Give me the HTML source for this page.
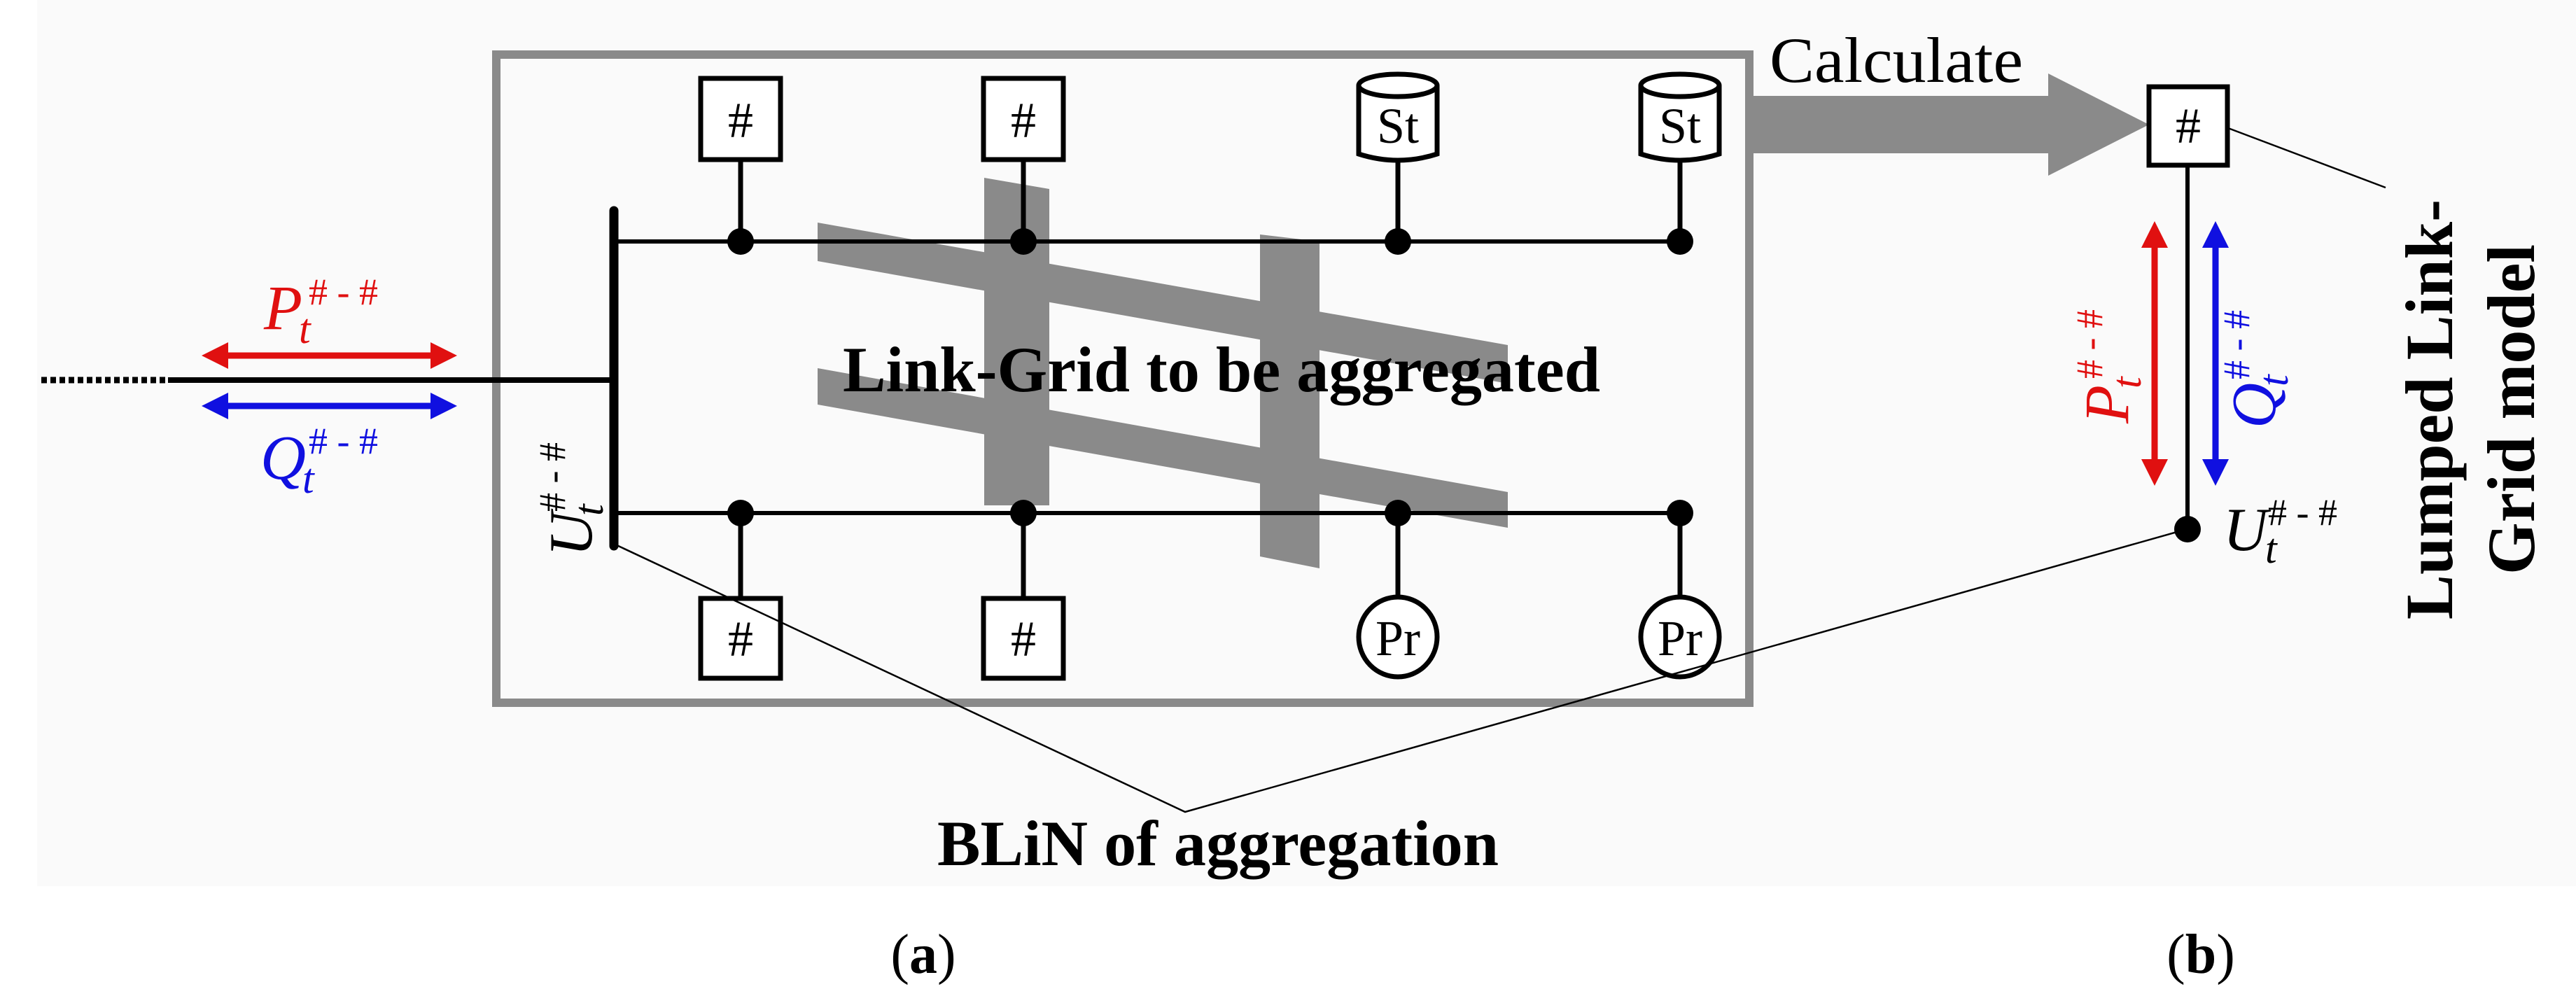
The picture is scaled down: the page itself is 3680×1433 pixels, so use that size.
<!DOCTYPE html>
<html><head><meta charset="utf-8"><style>
html,body{margin:0;padding:0;background:#fff}
svg{display:block}
text{font-family:"Liberation Serif",serif}
</style></head><body>
<svg width="3680" height="1433" viewBox="0 0 3680 1433" xmlns="http://www.w3.org/2000/svg">
<rect x="0" y="0" width="3680" height="1433" fill="#fff"/>
<rect x="53" y="0" width="3627" height="1266" fill="#fafafa"/>

<!-- gray hash bands -->
<g fill="#8a8a8a">
<polygon points="1168,318 2154,493 2154,548 1168,373"/>
<polygon points="1168,526 2154,703 2154,754 1168,578"/>
<polygon points="1406,254 1499,270 1499,722 1406,722"/>
<polygon points="1800,335 1885,345 1885,812 1800,795"/>
</g>

<!-- outer box -->
<rect x="709" y="78" width="1790" height="926" fill="none" stroke="#8a8a8a" stroke-width="12"/>

<!-- Calculate arrow -->
<polygon points="2505,137 2926,137 2926,105 3070,178 2926,251 2926,219 2505,219" fill="#8a8a8a"/>
<text x="2528" y="117" font-size="92" textLength="362" lengthAdjust="spacingAndGlyphs">Calculate</text>

<!-- left line -->
<line x1="59" y1="543" x2="240" y2="543" stroke="#000" stroke-width="9" stroke-dasharray="8,5"/>
<line x1="240" y1="543" x2="876" y2="543" stroke="#000" stroke-width="8"/>
<g>
<line x1="320" y1="508" x2="622" y2="508" stroke="#e01010" stroke-width="9"/>
<polygon points="288,508 326,489 326,527" fill="#e01010"/>
<polygon points="653,508 615,489 615,527" fill="#e01010"/>
<line x1="320" y1="580" x2="622" y2="580" stroke="#1010e0" stroke-width="9"/>
<polygon points="288,580 326,561 326,599" fill="#1010e0"/>
<polygon points="653,580 615,561 615,599" fill="#1010e0"/>
</g>
<text x="377" y="470" font-size="90" font-style="italic" fill="#e01010">P</text>
<text x="427" y="490" font-size="60" font-style="italic" fill="#e01010">t</text>
<text x="441" y="435" font-size="54" fill="#e01010"># - #</text>
<text x="372" y="684" font-size="90" font-style="italic" fill="#1010e0">Q</text>
<text x="432" y="704" font-size="60" font-style="italic" fill="#1010e0">t</text>
<text x="441" y="648" font-size="54" fill="#1010e0"># - #</text>

<!-- U label rotated -->
<g transform="translate(845,795) rotate(-90)">
<text x="0" y="0" font-size="88" font-style="italic">U</text>
<text x="58" y="16" font-size="60" font-style="italic">t</text>
<text x="64" y="-38" font-size="54"># - #</text>
</g>

<!-- bus -->
<line x1="877" y1="301" x2="877" y2="780" stroke="#000" stroke-width="13" stroke-linecap="round"/>
<line x1="877" y1="345" x2="2400" y2="345" stroke="#000" stroke-width="6"/>
<line x1="877" y1="733" x2="2400" y2="733" stroke="#000" stroke-width="6"/>

<g stroke="#000" stroke-width="7" fill="#fff">
<line x1="1058" y1="230" x2="1058" y2="345"/>
<line x1="1462" y1="230" x2="1462" y2="345"/>
<line x1="1997" y1="230" x2="1997" y2="345"/>
<line x1="2400" y1="230" x2="2400" y2="345"/>
<line x1="1058" y1="733" x2="1058" y2="855"/>
<line x1="1462" y1="733" x2="1462" y2="855"/>
<line x1="1997" y1="733" x2="1997" y2="855"/>
<line x1="2400" y1="733" x2="2400" y2="855"/>
<rect x="1001" y="112" width="114" height="116"/>
<rect x="1405" y="112" width="114" height="116"/>
<rect x="1001" y="855" width="114" height="114"/>
<rect x="1405" y="855" width="114" height="114"/>
<path d="M1941,122 L1941,220 Q1997,238 2053,220 L2053,122"/>
<ellipse cx="1997" cy="122" rx="56" ry="16"/>
<path d="M2344,122 L2344,220 Q2400,238 2456,220 L2456,122"/>
<ellipse cx="2400" cy="122" rx="56" ry="16"/>
<ellipse cx="1997" cy="910" rx="56" ry="57"/>
<ellipse cx="2400" cy="910" rx="56" ry="57"/>
<rect x="3070" y="124" width="112" height="112"/>
</g>
<g fill="#000">
<circle cx="1058" cy="345" r="19"/><circle cx="1462" cy="345" r="19"/>
<circle cx="1997" cy="345" r="19"/><circle cx="2400" cy="345" r="19"/>
<circle cx="1058" cy="733" r="19"/><circle cx="1462" cy="733" r="19"/>
<circle cx="1997" cy="733" r="19"/><circle cx="2400" cy="733" r="19"/>
</g>
<g font-size="72" text-anchor="middle">
<text x="1058" y="196">#</text><text x="1462" y="196">#</text>
<text x="1058" y="937">#</text><text x="1462" y="937">#</text>
<text x="3126" y="204">#</text>
<text x="1997" y="204" font-size="72">St</text><text x="2400" y="204" font-size="72">St</text>
<text x="1997" y="936" font-size="72">Pr</text><text x="2400" y="936" font-size="72">Pr</text>
</g>

<text x="1204" y="559" font-size="92" font-weight="bold" textLength="1082" lengthAdjust="spacingAndGlyphs">Link-Grid to be aggregated</text>

<!-- right side -->
<line x1="3125" y1="236" x2="3125" y2="756" stroke="#000" stroke-width="6"/>
<circle cx="3125" cy="756" r="19" fill="#000"/>
<line x1="3078" y1="345" x2="3078" y2="665" stroke="#e01010" stroke-width="9"/>
<polygon points="3078,316 3059,354 3097,354" fill="#e01010"/>
<polygon points="3078,694 3059,656 3097,656" fill="#e01010"/>
<line x1="3165" y1="345" x2="3165" y2="665" stroke="#1010e0" stroke-width="9"/>
<polygon points="3165,316 3146,354 3184,354" fill="#1010e0"/>
<polygon points="3165,694 3146,656 3184,656" fill="#1010e0"/>
<g transform="translate(3040,605) rotate(-90)">
<text x="0" y="0" font-size="90" font-style="italic" fill="#e01010">P</text>
<text x="50" y="18" font-size="60" font-style="italic" fill="#e01010">t</text>
<text x="64" y="-37" font-size="54" fill="#e01010"># - #</text>
</g>
<g transform="translate(3250,612) rotate(-90)">
<text x="0" y="0" font-size="90" font-style="italic" fill="#1010e0">Q</text>
<text x="60" y="18" font-size="60" font-style="italic" fill="#1010e0">t</text>
<text x="70" y="-37" font-size="54" fill="#1010e0"># - #</text>
</g>
<text x="3176" y="786" font-size="88" font-style="italic">U</text>
<text x="3236" y="804" font-size="60" font-style="italic">t</text>
<text x="3240" y="750" font-size="54"># - #</text>

<g transform="rotate(-90)" font-weight="bold" font-size="96" text-anchor="middle">
<text x="-585" y="3503">Lumped Link-</text>
<text x="-585" y="3620">Grid model</text>
</g>
<line x1="3183" y1="183" x2="3408" y2="268" stroke="#000" stroke-width="2.5"/>

<polyline points="879,778 1693,1160 3110,760" fill="none" stroke="#000" stroke-width="2.5"/>
<text x="1339" y="1236" font-size="92" font-weight="bold" textLength="802" lengthAdjust="spacingAndGlyphs">BLiN of aggregation</text>

<text x="1319" y="1390" font-size="80" text-anchor="middle">(<tspan font-weight="bold">a</tspan>)</text>
<text x="3144" y="1390" font-size="80" text-anchor="middle">(<tspan font-weight="bold">b</tspan>)</text>
</svg>
</body></html>
